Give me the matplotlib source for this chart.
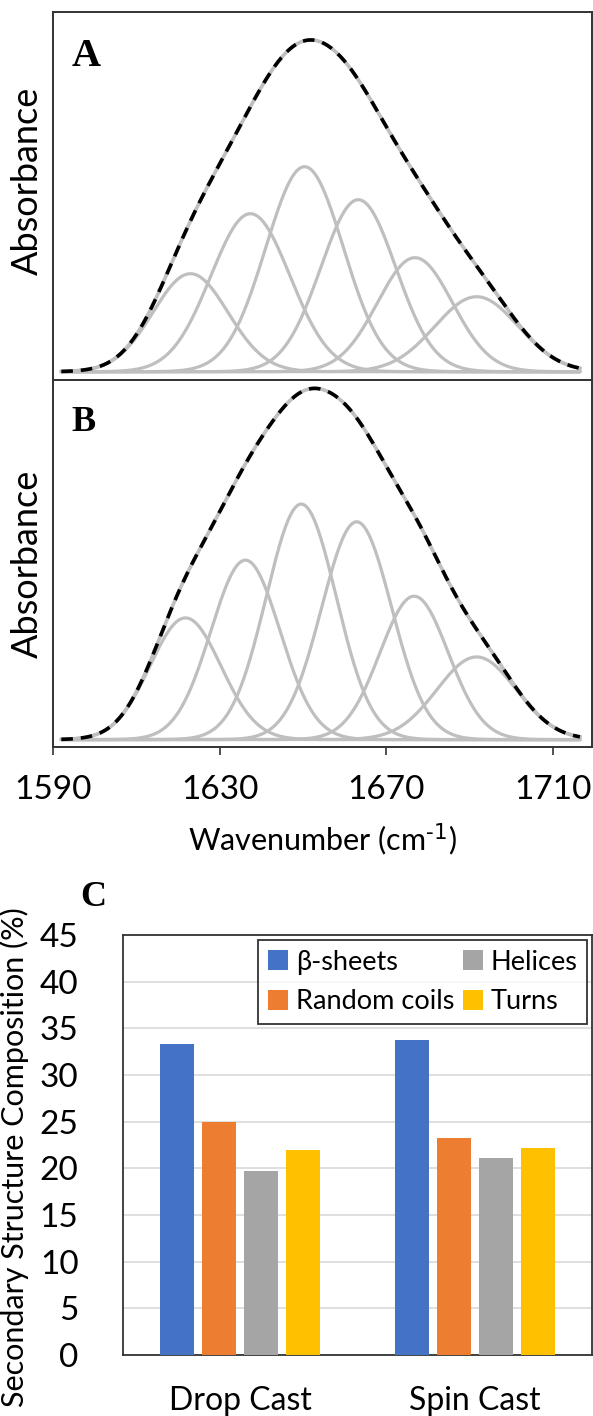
import numpy as np
import matplotlib
matplotlib.use("Agg")
import matplotlib.pyplot as plt

plt.rcParams['font.family'] = ['Lato', 'DejaVu Sans']

# --- FTIR amide I band deconvolution (panels A and B) ---
# peak centres (cm-1), heights (a.u.), gaussian widths (cm-1)
a_centers = [1623.0, 1637.4, 1650.4, 1663.3, 1676.9, 1691.7]
a_heights = [0.098, 0.158, 0.205, 0.172, 0.114, 0.075]
a_widths = [9.0, 9.5, 9.3, 9.0, 9.0, 10.0]

b_centers = [1621.8, 1636.2, 1649.6, 1662.9, 1676.7, 1691.7]
b_heights = [0.1216, 0.1793, 0.2353, 0.2176, 0.1433, 0.0826]
b_widths = [8.5, 8.3, 8.4, 8.4, 8.2, 9.5]

wn_range = (1592.0, 1716.5)
x_ticks = [1590, 1630, 1670, 1710]

# --- secondary structure composition (panel C) ---
samples = ["Drop Cast", "Spin Cast"]
structures = ["β-sheets", "Random coils", "Helices", "Turns"]
beta_sheets = [33.3, 33.8]
random_coils = [25.0, 23.2]
helices = [19.7, 21.1]
turns = [22.0, 22.2]
bar_colors = ["#4472C4", "#ED7D31", "#A5A5A5", "#FFC000"]

W, H = 593, 1416
fig = plt.figure(figsize=(W / 100, H / 100), dpi=100)


def fx(px):
    return px / W


def fy(px_top, px_bottom):
    return (H - px_bottom) / H, (px_bottom - px_top) / H


def spectrum_panel(ax, centers, heights, widths, ylim, letter, letter_size):
    wn = np.linspace(wn_range[0], wn_range[1], 600)
    total = np.zeros_like(wn)
    for c, h, s in zip(centers, heights, widths):
        comp = h * np.exp(-0.5 * ((wn - c) / s) ** 2)
        total += comp
        ax.plot(wn, comp, color='#BFBFBF', lw=2.3, solid_capstyle='round')
    ax.plot(wn, total, color='#BFBFBF', lw=2.6)
    ax.plot(wn, total, color='black', lw=2.6, dashes=(3.2, 2.2))
    ax.set_xlim(1590, 1719.4)
    ax.set_ylim(*ylim)
    ax.set_yticks([])
    ax.set_xticks(x_ticks)
    ax.tick_params(axis='x', direction='out', length=6, width=1.2, colors='#333333')
    for sp in ax.spines.values():
        sp.set_linewidth(1.4)
        sp.set_color('#333333')
    ax.set_ylabel("Absorbance", fontsize=26)
    ax.text(0.035, 0.93, letter, transform=ax.transAxes, fontsize=letter_size,
            fontweight='bold', family='Liberation Serif', va='top', ha='left')


b, h = fy(12, 380)
axA = fig.add_axes([fx(53), b, fx(539), h])
spectrum_panel(axA, a_centers, a_heights, a_widths, (-0.0083, 0.3597), "A", 29)
axA.set_xticklabels([])
axA.yaxis.set_label_coords(-0.017, 0.54)

b, h = fy(380, 747)
axB = fig.add_axes([fx(53), b, fx(539), h])
spectrum_panel(axB, b_centers, b_heights, b_widths, (-0.0074, 0.3593), "B", 26)
axB.tick_params(axis='x', labelsize=24, pad=14, labelcolor='black')
axB.set_xlabel(r"Wavenumber (cm$^{\text{-1}}$)", fontsize=22, labelpad=12)
axB.yaxis.set_label_coords(-0.017, 0.5)

# --- panel C ---
b, h = fy(935, 1355)
axC = fig.add_axes([fx(123), b, fx(469), h])
x = np.arange(len(samples))
series = [beta_sheets, random_coils, helices, turns]
step = 0.179
for i, (vals, col, lab) in enumerate(zip(series, bar_colors, structures)):
    axC.bar(x + (i - 1.5) * step, vals, width=0.145, color=col, label=lab, zorder=3)

axC.set_xlim(-0.5, 1.5)
axC.set_ylim(0, 45)
axC.set_yticks(range(0, 46, 5))
axC.set_xticks(x)
axC.set_xticklabels(samples)
axC.grid(axis='y', color='#D9D9D9', lw=1.2, zorder=0)
axC.tick_params(axis='both', length=0, labelsize=24)
axC.tick_params(axis='y', pad=32)
axC.tick_params(axis='x', pad=22, labelsize=23)
for sp in axC.spines.values():
    sp.set_linewidth(1.3)
    sp.set_color('#333333')
axC.set_ylabel("Secondary Structure Composition (%)", fontsize=22)
axC.yaxis.set_label_coords(-0.2, 0.47)

leg = axC.legend(ncol=2, loc='upper right', bbox_to_anchor=(0.99, 0.988), fontsize=19.5,
                 frameon=True, fancybox=False, edgecolor='black', handlelength=0.75,
                 handleheight=0.75, handletextpad=0.3, columnspacing=0.3,
                 borderpad=0.35, labelspacing=0.55, borderaxespad=0)
leg.get_frame().set_linewidth(1.3)

fig.text(fx(80), 1 - 898 / H, "C", fontsize=26, fontweight='bold',
         family='Liberation Serif', va='center', ha='left')

fig.savefig("out.png", dpi=100)
